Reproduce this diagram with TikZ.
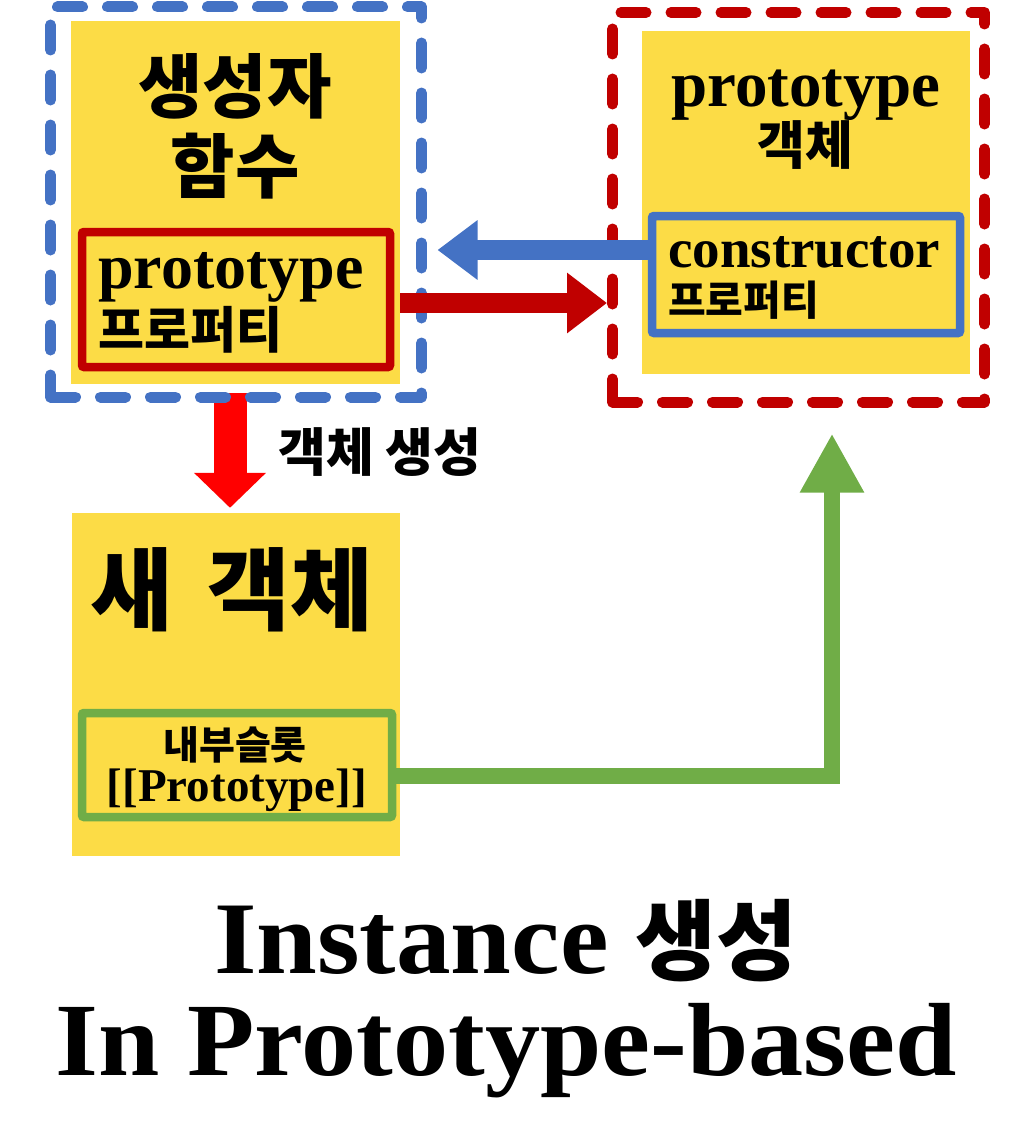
\documentclass[tikz,border=0pt]{standalone}
\usepackage{fontspec}
\setmainfont{Liberation Serif}
\newfontfamily\kr{Noto Sans CJK KR}
\newfontfamily\titlefont{Liberation Serif}[FakeStretch=1.06]
\usetikzlibrary{arrows.meta}
\definecolor{boxyellow}{RGB}{252,220,70}
\definecolor{dblue}{RGB}{68,114,196}
\definecolor{dred}{RGB}{192,0,0}
\definecolor{bred}{RGB}{255,0,0}
\definecolor{lgreen}{RGB}{112,173,71}
\tikzset{yellow box/.style={fill=boxyellow, inner sep=0pt}}
\tikzset{dash box/.style={draw=#1, line width=11pt, dash pattern=on 25pt off 25pt, line cap=round, line join=round, inner sep=0pt}}
\tikzset{slot box/.style={draw=#1, line width=8.5pt, rounded corners=2pt, inner sep=0pt}}
\tikzset{fat arrow/.style={draw=#1, line width=20pt, -{Triangle[length=40pt,width=57pt]}}}

\begin{document}
\begin{tikzpicture}[x=1pt,y=-1pt]
        \useasboundingbox (0,0) rectangle (1018,1132);
        \node [yellow box, minimum width=329pt, minimum height=363pt] (ctor) at (235.5,202.5) {};
        \node [yellow box, minimum width=328pt, minimum height=343pt] (proto) at (806,202.5) {};
        \node [yellow box, minimum width=328pt, minimum height=343pt] (newobj) at (236,684.5) {};
        \node [slot box=dred, minimum width=308pt, minimum height=135pt] (pprop) at (236,299.5) {};
        \node [slot box=dblue, minimum width=308pt, minimum height=117pt] (cprop) at (806,274.5) {};
        \node [slot box=lgreen, minimum width=310pt, minimum height=104pt] (slot) at (237,765) {};
        \coordinate (downstart) at ([xshift=-5.5pt,yshift=-9pt]ctor.south);
        \draw [fat arrow=bred, line width=33pt, -{Triangle[length=35pt,width=70pt]}, shorten >=5pt] (downstart) -- (downstart |- newobj.north);
        \node [dash box=dblue, minimum width=371pt, minimum height=390pt] (ctorgroup) at (236,202) {};
        \node [dash box=dred, minimum width=372pt, minimum height=389.5pt] (protogroup) at (798.5,207.25) {};
        \coordinate (bluestart) at ([yshift=24.5pt]cprop.west);
        \draw [fat arrow=dblue, shorten >=10.5pt] (bluestart) -- (bluestart -| ctorgroup.east);
        \coordinate (redstart) at ([yshift=-100.5pt]ctor.east);
        \draw [fat arrow=dred, -{Triangle[length=40pt,width=58pt]}] (redstart) -- (redstart -| protogroup.west);
        \coordinate (greenstart) at ([yshift=-11pt]slot.east);
        \draw [fat arrow=lgreen, line width=16pt, -{Triangle[length=59pt,width=60pt]}, shorten >=26pt] (greenstart) -| ([xshift=33.5pt]protogroup.south);
        \node [align=center, font=\kr\bfseries\fontsize{70}{80}\selectfont] (ctortitle) at (235,126) {생성자\\함수};
        \node [anchor=base west, inner sep=0pt, font=\bfseries\fontsize{64}{70}\selectfont] (pname) at (98,288) {prototype};
        \node [anchor=west, inner sep=0pt, font=\kr\bfseries\fontsize{50}{56}\selectfont] (pkr) at (98,330) {프로퍼티};
        \node [anchor=base, inner sep=0pt, font=\bfseries\fontsize{65}{70}\selectfont] (ptitle) at (806,106) {prototype};
        \node [inner sep=0pt, font=\kr\bfseries\fontsize{52}{58}\selectfont] (pobj) at (805,145) {객체};
        \node [anchor=base west, inner sep=0pt, font=\bfseries\fontsize{55}{60}\selectfont] (cname) at (668,267) {constructor};
        \node [anchor=west, inner sep=0pt, font=\kr\bfseries\fontsize{41}{46}\selectfont] (ckr) at (668,300) {프로퍼티};
        \node [inner sep=0pt, font=\kr\bfseries\fontsize{52}{58}\selectfont] (newlabel) at (380,452) {객체 생성};
        \node [inner sep=0pt, font=\kr\bfseries\fontsize{90}{96}\selectfont] (newtitle) at (232,590) {새\hspace{0.15em} 객체};
        \node [inner sep=0pt, font=\kr\bfseries\fontsize{39}{42}\selectfont] (slotkr) at (235,745) {내부슬롯};
        \node [inner sep=0pt, font=\bfseries\fontsize{47}{50}\selectfont] (slotname) at (237,790) {[[Prototype]]};
        \node [anchor=base, inner sep=0pt, font=\titlefont\bfseries\fontsize{103}{110}\selectfont] (title1) at (506,973) {Instance {\kr\fontsize{88}{90}\selectfont 생성}};
        \node [anchor=base, inner sep=0pt, font=\titlefont\bfseries\fontsize{104}{110}\selectfont] (title2) at (506,1075) {In Prototype-based};
\end{tikzpicture}
\end{document}
